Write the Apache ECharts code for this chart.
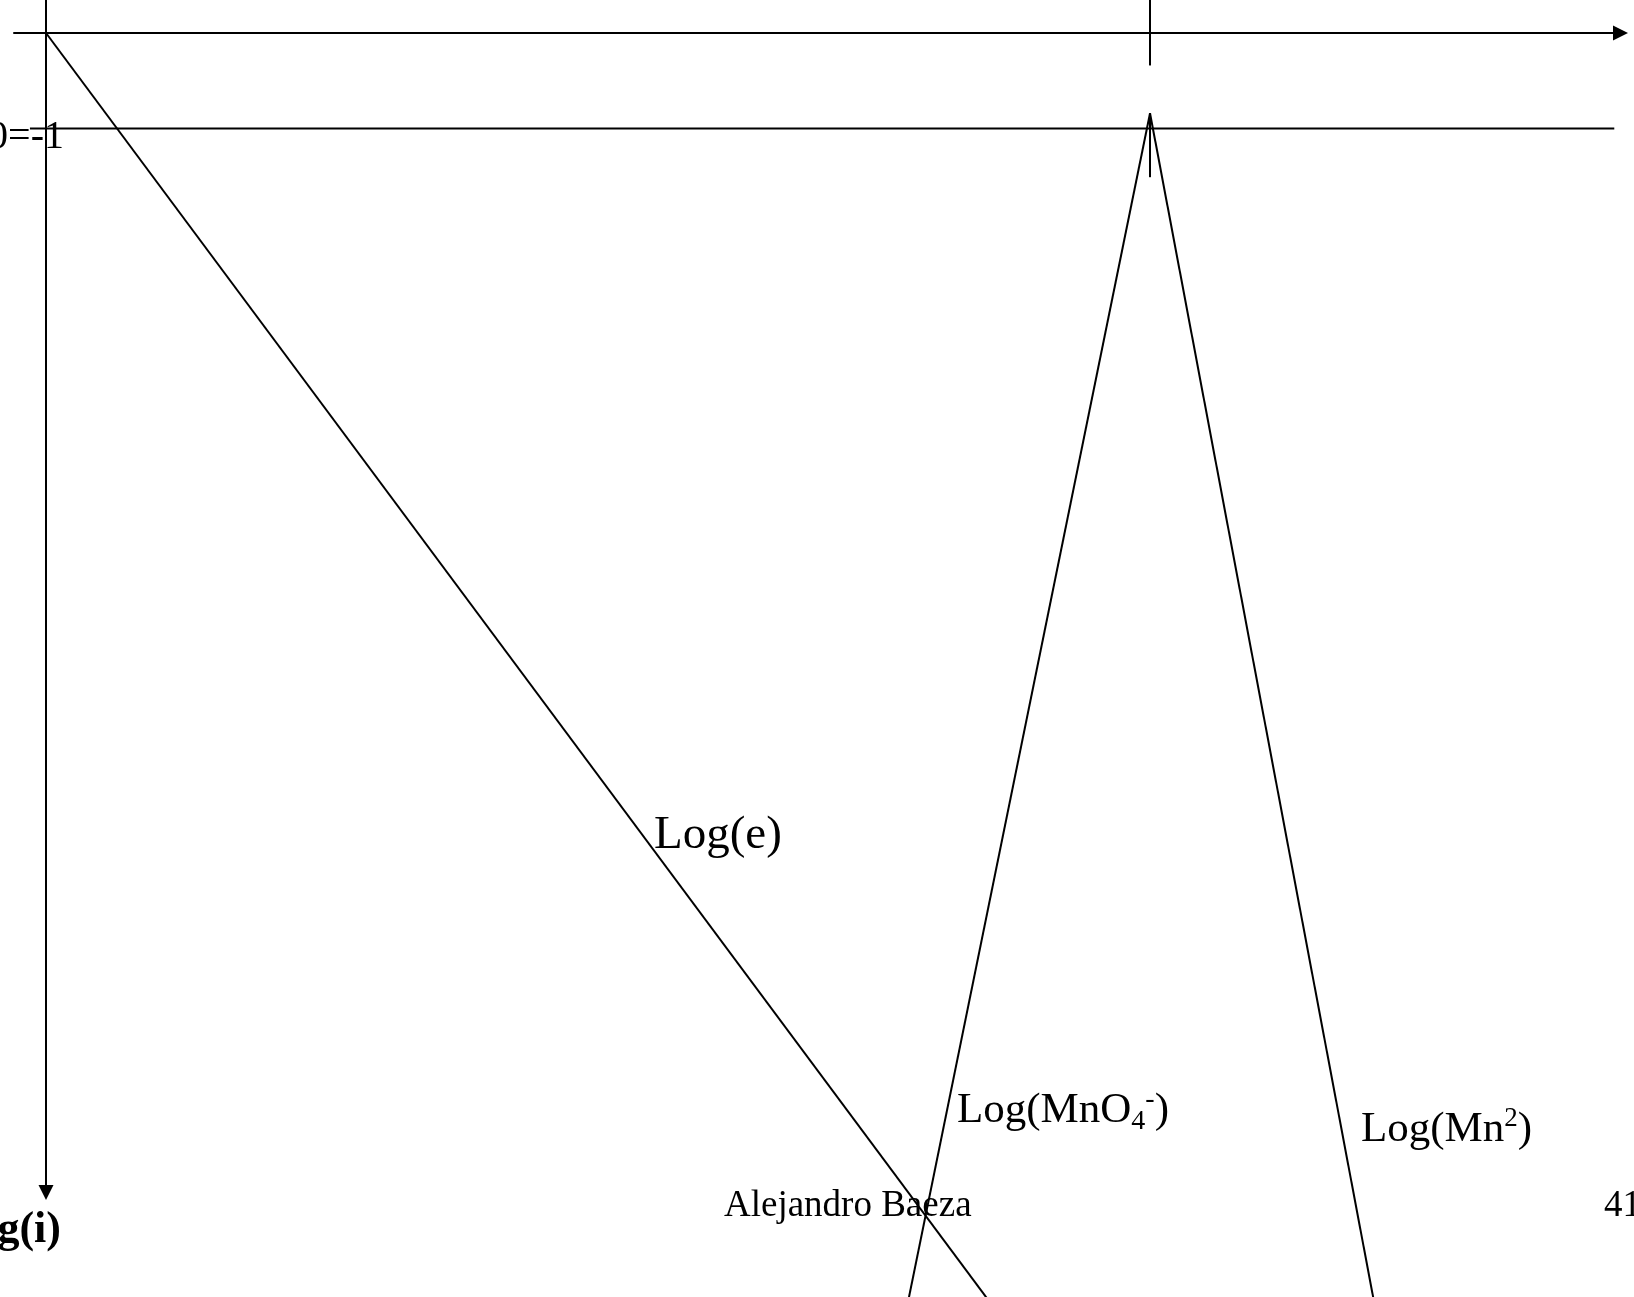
<!DOCTYPE html>
<html>
<head>
<meta charset="utf-8">
<script src="https://cdn.jsdelivr.net/npm/echarts@6/dist/echarts.min.js"></script>
<style>
  html, body { margin: 0; padding: 0; background: #fff; }
  #chart { width: 1634px; height: 1297px; }
</style>
</head>
<body>
<div id="chart"></div>
<script>
// E (V) along the top, log(i) downwards
var e0 = 1.51;
var logELine = [[0, 0], [1.36, -14]];
var mno4Line = [[1.51, -0.84], [1.16, -14]];
var mn2Line = [[1.51, -0.84], [1.834, -14]];
var refLine = [[-0.022, -1], [2.145, -1]];
var tickTop = [[e0, 0.35], [e0, -0.34]];
var tickMid = [[e0, -0.84], [e0, -1.51]];

var serif = '"Liberation Serif", "Times New Roman", serif';
var chart = echarts.init(document.getElementById('chart'));

function seg(data) {
    return {
        type: 'line',
        data: data,
        symbol: 'none',
        clip: false,
        silent: true,
        lineStyle: {color: '#000', width: 2}
    };
}

chart.setOption({
    animation: false,
    backgroundColor: '#fff',
    grid: {left: 14, right: 13.5, top: 0, bottom: 104.5, outerBoundsMode: 'none'},
    xAxis: {
        type: 'value',
        min: -0.0438,
        max: 2.1535,
        axisLine: {
            onZero: true,
            symbol: ['none', 'triangle'],
            symbolSize: [15, 15],
            lineStyle: {color: '#000', width: 2}
        },
        axisTick: {show: false},
        axisLabel: {show: false},
        splitLine: {show: false}
    },
    yAxis: {
        type: 'value',
        min: -12.141,
        max: 0.3455,
        axisLine: {
            onZero: true,
            symbol: ['triangle', 'none'],
            symbolSize: [15, 15],
            lineStyle: {color: '#000', width: 2}
        },
        axisTick: {show: false},
        axisLabel: {show: false},
        splitLine: {show: false}
    },
    series: [logELine, mno4Line, mn2Line, refLine, tickTop, tickMid].map(seg),
    graphic: [
        {type: 'text', x: 64, y: 137.5, style: {text: '0=-1', font: '40px ' + serif, fill: '#000', align: 'right', verticalAlign: 'middle'}},
        {type: 'text', x: 61, y: 1231, style: {text: 'Log(i)', font: 'bold 44px ' + serif, fill: '#000', align: 'right', verticalAlign: 'middle'}},
        {type: 'text', x: 654, y: 836, style: {text: 'Log(e)', font: '47px ' + serif, fill: '#000', verticalAlign: 'middle'}},
        {
            type: 'text', x: 957, y: 1111,
            style: {
                text: '{n|Log(MnO}{sub|4}{sup|-}{n|)}',
                verticalAlign: 'middle',
                rich: {
                    n: {fontFamily: serif, fontSize: 43, lineHeight: 50, fill: '#000'},
                    sub: {fontFamily: serif, fontSize: 28, lineHeight: 24, verticalAlign: 'bottom', fill: '#000'},
                    sup: {fontFamily: serif, fontSize: 28, lineHeight: 37, verticalAlign: 'top', fill: '#000'}
                }
            }
        },
        {
            type: 'text', x: 1361, y: 1130,
            style: {
                text: '{n|Log(Mn}{sup|2}{n|)}',
                verticalAlign: 'middle',
                rich: {
                    n: {fontFamily: serif, fontSize: 43, lineHeight: 50, fill: '#000'},
                    sup: {fontFamily: serif, fontSize: 27, lineHeight: 37, verticalAlign: 'top', fill: '#000'}
                }
            }
        },
        {type: 'text', x: 724, y: 1206, style: {text: 'Alejandro Baeza', font: '37px ' + serif, fill: '#000', verticalAlign: 'middle'}},
        {type: 'text', x: 1604, y: 1206, style: {text: '41', font: '37px ' + serif, fill: '#000', verticalAlign: 'middle'}}
    ]
});
</script>
</body>
</html>
